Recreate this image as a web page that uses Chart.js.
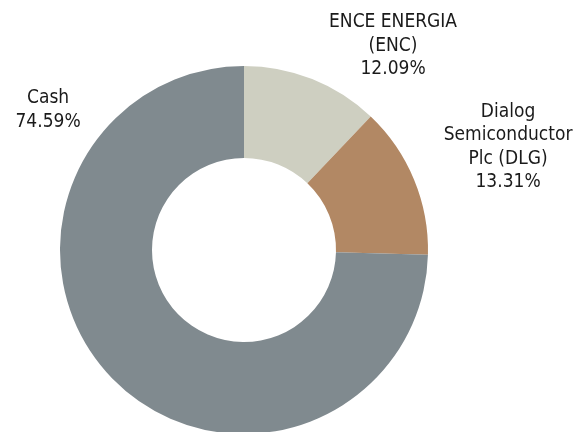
<!DOCTYPE html>
<html>
<head>
<meta charset="utf-8">
<script src="https://cdn.jsdelivr.net/npm/chart.js@4/dist/chart.umd.min.js"></script>
<style>
  html, body { margin: 0; padding: 0; background: #fff; overflow: hidden; }
  #wrap { position: absolute; left: 0; top: 0; width: 580px; height: 470px; }
</style>
</head>
<body>
<div id="wrap"><canvas id="myChart" width="580" height="470"></canvas></div>
<script>
// holdings
var names = [['ENCE ENERGIA', '(ENC)'], ['Dialog', 'Semiconductor', 'Plc (DLG)'], ['Cash']];
var weights = [12.09, 13.31, 74.59];
var colors = ['#cecfc1', '#b28864', '#808a8f'];

// where each label block sits, as a fraction of the outer radius from the centre
var labelOffsets = [[0.81, -1.109], [1.435, -0.56], [-1.065, -0.761]];

var outsideLabels = {
  id: 'outsideLabels',
  afterDatasetsDraw: function(chart) {
    var ctx = chart.ctx;
    var meta = chart.getDatasetMeta(0);
    ctx.save();
    ctx.font = '19px "DejaVu Sans Condensed", "DejaVu Sans", sans-serif';
    ctx.fillStyle = '#1a1a1a';
    ctx.textAlign = 'center';
    ctx.textBaseline = 'middle';
    var lh = 23.5;
    meta.data.forEach(function(arc, i) {
      var lines = names[i].concat([weights[i].toFixed(2) + '%']);
      var cx = arc.x + labelOffsets[i][0] * arc.outerRadius;
      var cy = arc.y + labelOffsets[i][1] * arc.outerRadius;
      var y0 = cy - (lines.length - 1) * lh / 2;
      lines.forEach(function(t, j) {
        ctx.fillText(t, cx, y0 + j * lh);
      });
    });
    ctx.restore();
  }
};

var ctx = document.getElementById('myChart').getContext('2d');
var myChart = new Chart(ctx, {
  type: 'doughnut',
  data: {
    labels: names.map(function(n) { return n.join(' '); }),
    datasets: [{
      data: weights,
      backgroundColor: colors,
      borderWidth: 0
    }]
  },
  options: {
    responsive: false,
    animation: false,
    cutout: '50%',
    layout: { padding: { left: 60, right: 152, top: 66, bottom: 36 } },
    plugins: {
      legend: { display: false },
      tooltip: { enabled: false }
    }
  },
  plugins: [outsideLabels]
});
</script>
</body>
</html>
